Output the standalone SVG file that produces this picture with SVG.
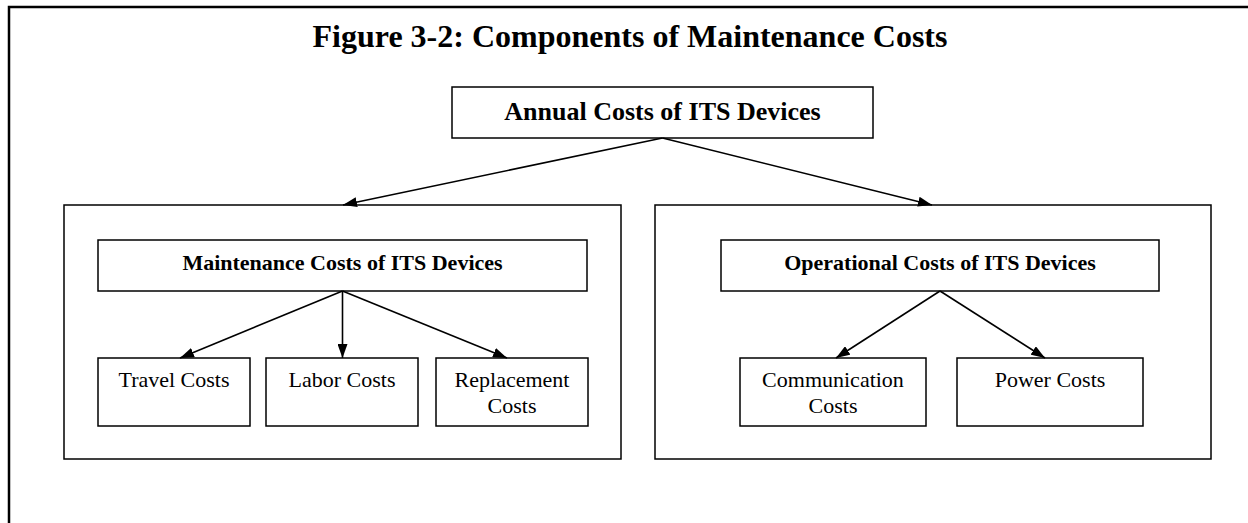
<svg xmlns="http://www.w3.org/2000/svg" width="1248" height="523" viewBox="0 0 1248 523">
  <defs>
    <marker id="arrow" viewBox="0 0 14 10" refX="14" refY="5" markerWidth="14" markerHeight="10" markerUnits="userSpaceOnUse" orient="auto">
      <path d="M0,0 L14,5 L0,10 Z" fill="#000"/>
    </marker>
    <style>
      .box { fill: #fff; stroke: #000; stroke-width: 1.5; }
      .frame { fill: none; stroke: #000; stroke-width: 2.5; }
      .link { fill: none; stroke: #000; stroke-width: 1.6; marker-end: url(#arrow); }
      .title { font-family: "Liberation Serif", "Times New Roman", serif; font-weight: bold; font-size: 32px; text-anchor: middle; }
      .head { font-family: "Liberation Serif", "Times New Roman", serif; font-weight: bold; text-anchor: middle; }
      .leaf { font-family: "Liberation Serif", "Times New Roman", serif; font-size: 22px; text-anchor: middle; }
    </style>
  </defs>
  <rect width="1248" height="523" fill="#fff"/>

  <!-- page frame -->
  <path class="frame" d="M9,523 V7 H1248"/>

  <text class="title" x="630" y="47">Figure 3-2: Components of Maintenance Costs</text>

  <g id="annual">
    <rect class="box" x="452" y="87" width="421" height="51"/>
    <text class="head" x="662.5" y="120" font-size="26">Annual Costs of ITS Devices</text>
  </g>

  <g id="maintenance-group">
    <rect class="box" x="64" y="205" width="557" height="254"/>
  </g>
  <g id="operational-group">
    <rect class="box" x="655" y="205" width="556" height="254"/>
  </g>

  <g id="maintenance">
    <rect class="box" x="98" y="240" width="489" height="51"/>
    <text class="head" x="342.5" y="270" font-size="22">Maintenance Costs of ITS Devices</text>
  </g>
  <g id="operational">
    <rect class="box" x="721" y="240" width="438" height="51"/>
    <text class="head" x="940" y="270" font-size="22">Operational Costs of ITS Devices</text>
  </g>

  <g id="travel">
    <rect class="box" x="98" y="358" width="152" height="68"/>
    <text class="leaf" x="174" y="387">Travel Costs</text>
  </g>
  <g id="labor">
    <rect class="box" x="266" y="358" width="152" height="68"/>
    <text class="leaf" x="342" y="387">Labor Costs</text>
  </g>
  <g id="replacement">
    <rect class="box" x="436" y="358" width="152" height="68"/>
    <text class="leaf" x="512" y="387">Replacement</text>
    <text class="leaf" x="512" y="413">Costs</text>
  </g>
  <g id="communication">
    <rect class="box" x="740" y="358" width="186" height="68"/>
    <text class="leaf" x="833" y="387">Communication</text>
    <text class="leaf" x="833" y="413">Costs</text>
  </g>
  <g id="power">
    <rect class="box" x="957" y="358" width="186" height="68"/>
    <text class="leaf" x="1050" y="387">Power Costs</text>
  </g>

  <g id="connectors">
    <line class="link" x1="662.5" y1="138" x2="343" y2="205"/>
    <line class="link" x1="662.5" y1="138" x2="932" y2="205"/>
    <line class="link" x1="342.5" y1="291" x2="180" y2="358"/>
    <line class="link" x1="342.5" y1="291" x2="342.5" y2="358"/>
    <line class="link" x1="342.5" y1="291" x2="507" y2="358"/>
    <line class="link" x1="940" y1="291" x2="836" y2="358"/>
    <line class="link" x1="940" y1="291" x2="1045" y2="358"/>
  </g>
</svg>
